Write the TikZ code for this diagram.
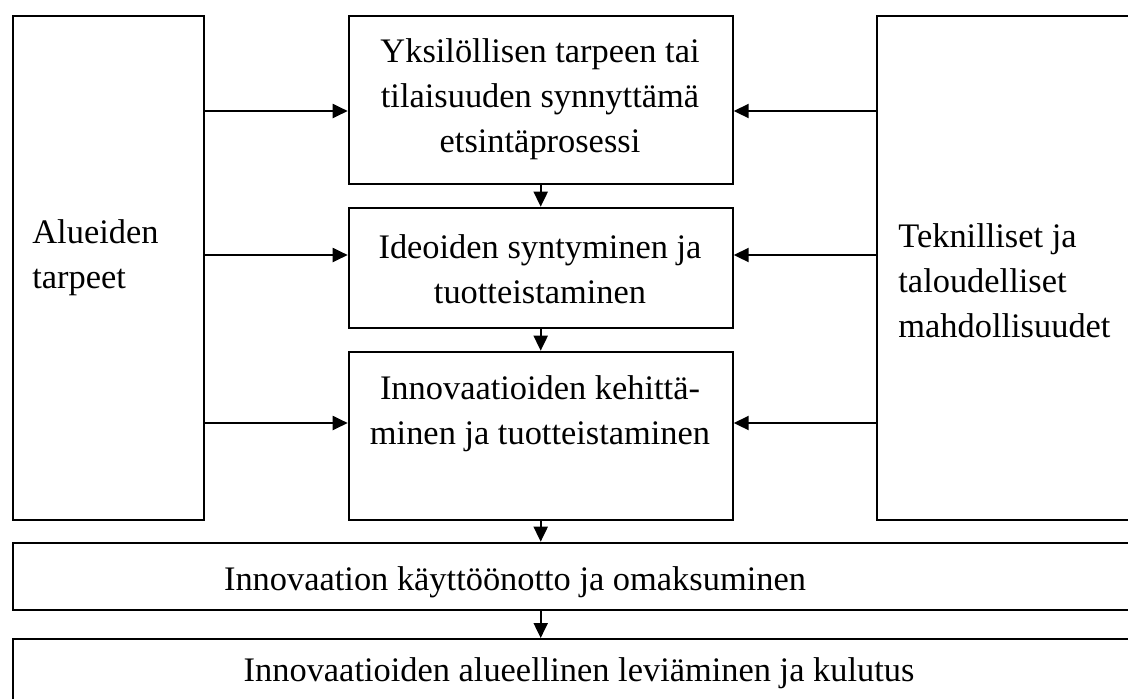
\documentclass[tikz,border=0pt]{standalone}
\usepackage{fontspec}
\setmainfont{Liberation Serif}
\usetikzlibrary{arrows.meta}

\begin{document}
\begin{tikzpicture}[x=0.5pt,y=-0.5pt,
        box/.style={draw,line width=1pt,inner sep=0pt,anchor=north west},
        arr/.style={line width=1pt,-{Triangle[length=7.5pt,width=7pt]}},
        txt/.style={font=\fontsize{17.2}{22.5}\selectfont,align=center,inner sep=0pt}]
        \useasboundingbox (0,0) rectangle (1128,698);
        \clip (0,0) rectangle (1128,698);

        \node[box,minimum width=95.8pt,minimum height=252pt] (alue) at (11.7,15) {};
        \node[box,minimum width=192pt,minimum height=84pt] (yks) at (347.7,15) {};
        \node[box,minimum width=192pt,minimum height=60pt] (ide) at (347.7,206.7) {};
        \node[box,minimum width=192pt,minimum height=84.15pt] (kehi) at (347.7,350.7) {};
        \node[box,minimum width=129.6pt,minimum height=252pt] (tekn) at (875.7,15) {};
        \node[box,minimum width=561.6pt,minimum height=33.65pt] (kaytto) at (11.7,541.7) {};
        \node[box,minimum width=561.6pt,minimum height=34pt] (levi) at (11.7,638) {};

        \node[txt,align=left,anchor=west] (t-alue) at (32,257.5) {Alueiden\\tarpeet};
        \node[txt] (t-yks) at (540,99) {Yksilöllisen tarpeen tai\\tilaisuuden synnyttämä\\etsintäprosessi};
        \node[txt] (t-ide) at (540,269.5) {Ideoiden syntyminen ja\\tuotteistaminen};
        \node[txt] (t-kehi) at (540,414) {Innovaatioiden kehittä-\\minen ja tuotteistaminen};
        \node[txt,align=left,anchor=west] (t-tekn) at (898,281) {Teknilliset ja\\taloudelliset\\mahdollisuudet};
        \node[txt] (t-kaytto) at (515,582) {Innovaation käyttöönotto ja omaksuminen};
        \node[txt] (t-levi) at (579,673) {Innovaatioiden alueellinen leviäminen ja kulutus};

        % inputs from both sides
        \foreach \b/\y in {yks/111,ide/255,kehi/423}{
            \draw[arr] (alue.east |- 0,\y) -- (\b.west |- 0,\y);
            \draw[arr] (tekn.west |- 0,\y) -- (\b.east |- 0,\y);
        }

        \draw[arr] (yks.south) -- (ide.north);
        \draw[arr] (ide.south) -- (kehi.north);
        \draw[arr] (kehi.south) -- (kaytto.north -| kehi.south);
        \draw[arr] (kaytto.south -| kehi.south) -- (levi.north -| kehi.south);
    \end{tikzpicture}
\end{document}
